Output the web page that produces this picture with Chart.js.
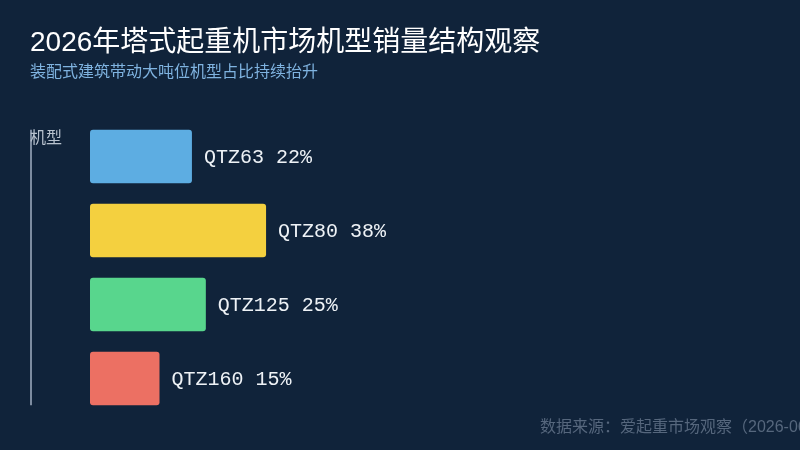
<!DOCTYPE html>
<html>
<head>
<meta charset="utf-8">
<script src="https://cdn.jsdelivr.net/npm/chart.js@4.4.1/dist/chart.umd.min.js"></script>
<style>
  html, body { margin: 0; padding: 0; background: #10233a; }
  #wrap { width: 800px; height: 450px; }
</style>
</head>
<body>
<div id="wrap"><canvas id="myChart"></canvas></div>
<script>
const models = ["QTZ63", "QTZ80", "QTZ125", "QTZ160"];
const shares = [22, 38, 25, 15];
const barColors = ["#5dade2", "#f4d03f", "#58d68d", "#ec7063"];

const titleText = "2026年塔式起重机市场机型销量结构观察";
const subtitleText = "装配式建筑带动大吨位机型占比持续抬升";
const sourceText = "数据来源：爱起重市场观察（2026-06）";
const axisName = "机型";

const cjk = '"Liberation Sans", "Noto Sans CJK SC", sans-serif';

// titles, source note, axis line and bar labels
const decor = {
  id: "decor",
  beforeDraw(chart) {
    const ctx = chart.ctx;
    ctx.save();
    ctx.fillStyle = "#10233a";
    ctx.fillRect(0, 0, chart.width, chart.height);
    ctx.restore();
  },
  afterDatasetsDraw(chart) {
    const ctx = chart.ctx;
    const bars = chart.getDatasetMeta(0).data;
    ctx.save();

    ctx.textBaseline = "middle";
    ctx.textAlign = "left";
    ctx.fillStyle = "#ffffff";
    ctx.font = "28px " + cjk;
    ctx.fillText(titleText, 30, 43);

    ctx.fillStyle = "#7fb3e0";
    ctx.font = "16px " + cjk;
    ctx.fillText(subtitleText, 30, 73);

    ctx.fillStyle = "#56677d";
    ctx.font = "16px " + cjk;
    ctx.fillText(sourceText, 540, 428);

    // category axis line
    const top = bars[0].y - bars[0].height / 2;
    const bottom = bars[bars.length - 1].y + bars[bars.length - 1].height / 2;
    ctx.strokeStyle = "#7d8ca0";
    ctx.lineWidth = 2;
    ctx.beginPath();
    ctx.moveTo(31, top);
    ctx.lineTo(31, bottom);
    ctx.stroke();

    ctx.fillStyle = "#b8c2ce";
    ctx.font = "16px " + cjk;
    ctx.fillText(axisName, 30, 139);

    ctx.fillStyle = "#eef2f6";
    ctx.font = '20px "Liberation Mono", monospace';
    bars.forEach((bar, i) => {
      ctx.fillText(models[i] + " " + shares[i] + "%", bar.x + 12, bar.y + 1);
    });
    ctx.restore();
  }
};

const config = {
  type: "bar",
  data: {
    labels: models,
    datasets: [{
      data: shares,
      backgroundColor: barColors,
      borderRadius: 3,
      borderSkipped: false,
      categoryPercentage: 0.8,
      barPercentage: 0.9
    }]
  },
  options: {
    indexAxis: "y",
    responsive: false,
    animation: false,
    devicePixelRatio: 1,
    layout: { padding: { top: 119.5, bottom: 34.5, left: 90, right: 15 } },
    scales: {
      x: { display: false, min: 0, max: 150 },
      y: { display: false }
    },
    plugins: {
      legend: { display: false },
      tooltip: { enabled: false }
    }
  },
  plugins: [decor]
};

const canvas = document.getElementById("myChart");
canvas.width = 800;
canvas.height = 450;
const myChart = new Chart(canvas, config);
</script>
</body>
</html>
